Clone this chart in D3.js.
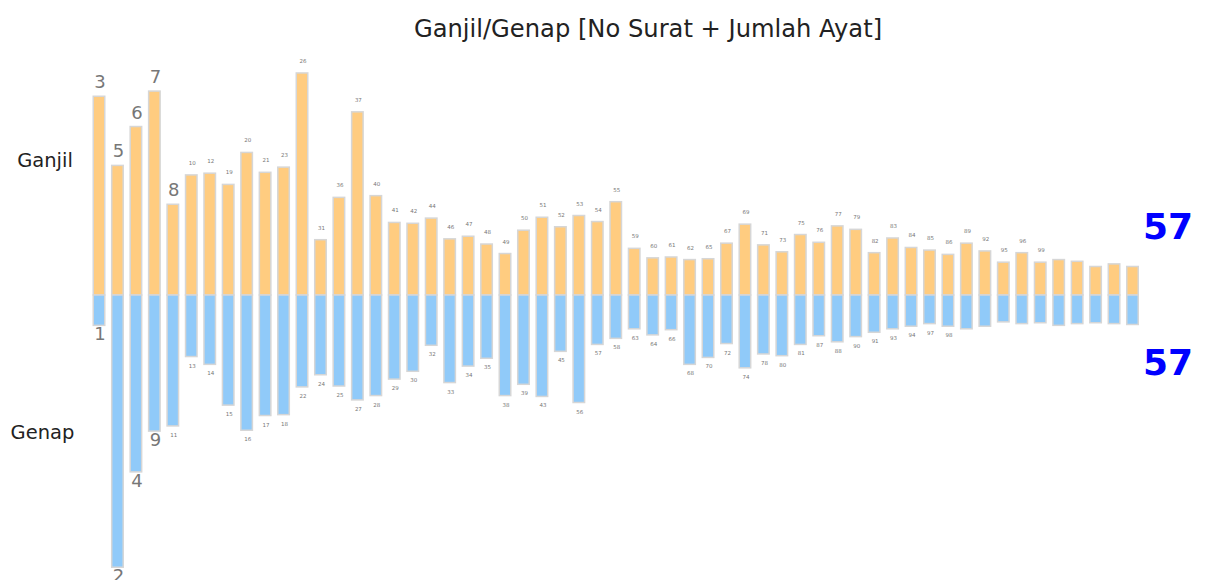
<!DOCTYPE html>
<html>
<head>
<meta charset="utf-8">
<script src="https://cdn.jsdelivr.net/npm/d3@7"></script>
<style>
  body { margin: 0; background: #fff; }
  svg { font-family: "DejaVu Sans", sans-serif; }
</style>
</head>
<body>
<div id="chart"></div>
<script>
// surat numbers whose (no + ayat) is odd, with their ayat counts
const ganjilSurat = [3, 5, 6, 7, 8, 10, 12, 19, 20, 21, 23, 26, 31, 36, 37, 40, 41, 42, 44, 46, 47, 48, 49, 50, 51, 52, 53, 54, 55, 59, 60, 61, 62, 65, 67, 69, 71, 73, 75, 76, 77, 79, 82, 83, 84, 85, 86, 89, 92, 95, 96, 99, 100, 104, 108, 109, 110];
const ganjilAyat = [200, 120, 165, 206, 75, 109, 111, 98, 135, 112, 118, 227, 34, 83, 182, 85, 54, 53, 59, 35, 38, 29, 18, 45, 60, 49, 62, 55, 78, 24, 13, 14, 11, 12, 30, 52, 28, 20, 40, 31, 50, 46, 19, 36, 25, 22, 17, 30, 21, 8, 19, 8, 11, 9, 3, 6, 3];

// surat numbers whose (no + ayat) is even
const genapSurat = [1, 2, 4, 9, 11, 13, 14, 15, 16, 17, 18, 22, 24, 25, 27, 28, 29, 30, 32, 33, 34, 35, 38, 39, 43, 45, 56, 57, 58, 63, 64, 66, 68, 70, 72, 74, 78, 80, 81, 87, 88, 90, 91, 93, 94, 97, 98, 101, 102, 103, 105, 106, 107, 111, 112, 113, 114];
const genapAyat = [7, 286, 176, 129, 123, 43, 52, 99, 128, 111, 110, 78, 64, 77, 93, 88, 69, 60, 30, 73, 54, 45, 88, 75, 89, 37, 96, 29, 22, 11, 18, 12, 52, 44, 28, 56, 40, 42, 29, 19, 26, 20, 15, 11, 8, 5, 8, 11, 8, 3, 5, 4, 7, 5, 4, 5, 6];

const title = "Ganjil/Genap [No Surat + Jumlah Ayat]";
const rowLabels = ["Ganjil", "Genap"];

const width = 1205;
const height = 580;
const baseY = 295;
const barW = 11.5;

const svg = d3.select("#chart").append("svg")
    .attr("width", width)
    .attr("height", height);

const ganjil = ganjilSurat.map((s, i) => ({ surat: s, ayat: ganjilAyat[i], i: i }));
const genap = genapSurat.map((s, i) => ({ surat: s, ayat: genapAyat[i], i: i }));

// scales
const xScale = d3.scalePoint()
    .domain(d3.range(ganjil.length))
    .range([99, 1132.5]);

const yUp = d3.scaleLinear()
    .domain([-30, 230])
    .range([baseY, baseY - 260 * 0.864]);

const yDown = d3.scaleLinear()
    .domain([-28, 290])
    .range([baseY, baseY + 318 * 0.867]);

// label sizing: 1 digit big, 2 digits tiny, 3 digits not shown
const labelSize = s => s < 10 ? 18 : 5.5;

// ganjil bars (up)
svg.selectAll("rect.ganjil")
    .data(ganjil)
    .join("rect")
    .attr("class", "ganjil")
    .attr("x", d => xScale(d.i) - barW / 2)
    .attr("y", d => yUp(d.ayat))
    .attr("width", barW)
    .attr("height", d => yUp(-30) - yUp(d.ayat))
    .attr("fill", "#ffcc80")
    .attr("stroke", "#d6d6d6")
    .attr("stroke-width", 1.5);

// genap bars (down)
svg.selectAll("rect.genap")
    .data(genap)
    .join("rect")
    .attr("class", "genap")
    .attr("x", d => xScale(d.i) - barW / 2)
    .attr("y", baseY)
    .attr("width", barW)
    .attr("height", d => yDown(d.ayat) - baseY)
    .attr("fill", "#90caf9")
    .attr("stroke", "#d6d6d6")
    .attr("stroke-width", 1.5);

// surat labels
svg.selectAll("text.lbl-up")
    .data(ganjil.filter(d => d.surat < 100))
    .join("text")
    .attr("class", "lbl-up")
    .attr("x", d => xScale(d.i) + 1)
    .attr("y", d => yUp(d.ayat) - (d.surat < 10 ? 8 : 10))
    .attr("text-anchor", "middle")
    .attr("font-size", d => labelSize(d.surat))
    .attr("fill", "#777")
    .text(d => d.surat);

svg.selectAll("text.lbl-down")
    .data(genap.filter(d => d.surat < 100))
    .join("text")
    .attr("class", "lbl-down")
    .attr("x", d => xScale(d.i) + 1)
    .attr("y", d => yDown(d.ayat) + (d.surat < 10 ? 2 : 7))
    .attr("dy", "0.73em")
    .attr("text-anchor", "middle")
    .attr("font-size", d => labelSize(d.surat))
    .attr("fill", "#777")
    .text(d => d.surat);

// title and row labels
svg.append("text")
    .attr("x", 648)
    .attr("y", 37)
    .attr("text-anchor", "middle")
    .attr("font-size", 24.2)
    .attr("fill", "#222")
    .text(title);

svg.append("text")
    .attr("x", 45)
    .attr("y", 167)
    .attr("text-anchor", "middle")
    .attr("font-size", 19.5)
    .attr("fill", "#222")
    .text(rowLabels[0]);

svg.append("text")
    .attr("x", 42.5)
    .attr("y", 439)
    .attr("text-anchor", "middle")
    .attr("font-size", 19.5)
    .attr("fill", "#222")
    .text(rowLabels[1]);

// counts
svg.append("text")
    .attr("x", 1143)
    .attr("y", 239)
    .attr("font-size", 36)
    .attr("font-weight", "bold")
    .attr("fill", "#0000ff")
    .text(ganjil.length);

svg.append("text")
    .attr("x", 1143)
    .attr("y", 375)
    .attr("font-size", 36)
    .attr("font-weight", "bold")
    .attr("fill", "#0000ff")
    .text(genap.length);
</script>
</body>
</html>
